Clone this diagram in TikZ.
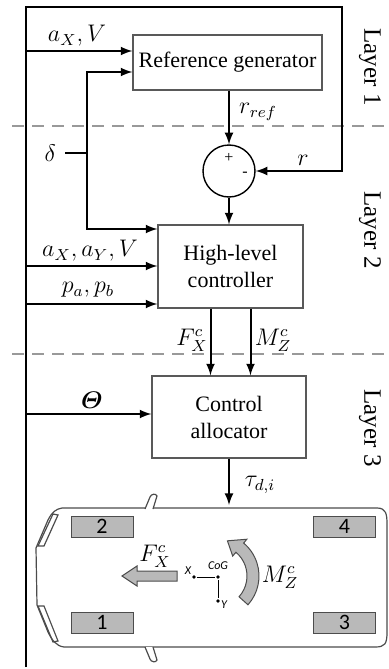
\documentclass[tikz,border=0pt]{standalone}
\usepackage{amsmath}
\usepackage{bm}
\usepackage{fontspec}
\setmainfont{Liberation Serif}
\newfontfamily\carlito{Carlito}
\usetikzlibrary{positioning,shapes,fit}

\begin{document}
\begin{tikzpicture}[-latex, x=0.5pt, y=-0.5pt, line width=1pt,
    block/.style = {draw=gray!70!black, line width=0.6pt, align=center, inner sep=2pt,
                    font=\fontsize{11}{13.5}\selectfont},
    sumpoint/.style = {draw, circle, line width=0.7pt, minimum size=26pt, inner sep=0pt},
    sig/.style = {draw=none, inner sep=1pt, font=\fontsize{11.5}{13}\selectfont},
    sign/.style = {draw=none, inner sep=0pt, font=\fontsize{8}{9}\selectfont},
    layer/.style = {rotate=-90, inner sep=0pt, font=\fontsize{12.5}{14}\selectfont},
    sep/.style = {-, gray!80, line width=0.8pt, dash pattern=on 6pt off 4pt},
    carline/.style = {-, draw=gray!60!black, line width=0.6pt},
    wheel/.style = {draw=gray!60!black, fill=gray!55, line width=0.5pt, minimum width=31pt,
                    minimum height=10.5pt, inner sep=0pt, font=\carlito\fontsize{11}{11}\selectfont},
    dot/.style = {circle, fill, inner sep=0pt, minimum size=1.8pt},
    axis/.style = {inner sep=0.5pt, font=\carlito\itshape\fontsize{6}{7}\selectfont},
    bigarrow/.style = {-, fill=gray!55, draw=gray!60!black, line width=0.5pt}]
    \useasboundingbox (0,0) rectangle (389,669);

    % blocks
    \node[block, minimum width=94.5pt, minimum height=27.5pt] (refgen) at (227.5,62.5) {Reference generator};
    \node[sumpoint] (sum) at (229,171) {};
    \node[sign] (plus) at (229,158) {+};
    \node[sign] (minus) at (245,174) {-};
    \node[block, minimum width=72.5pt, minimum height=41.5pt] (hlc) at (230.5,266.5) {High-level\\controller};
    \node[block, minimum width=77pt, minimum height=41pt] (alloc) at (229,417) {Control\\allocator};

    % layers
    \node[layer] (L1) at (370,67) {Layer 1};
    \node[layer] (L2) at (370,230) {Layer 2};
    \node[layer] (L3) at (370,428) {Layer 3};
    \draw[sep] (12,126) -- (389,126);
    \draw[sep] (12,354) -- (389,354);

    % inputs
    \coordinate (fbot) at (26,667);
    \coordinate (ftop) at (342,7);
    \coordinate (inAV) at (26,51);
    \coordinate (inAAV) at (26,266);
    \coordinate (inP) at (26,304);
    \coordinate (inT) at (26,414);
    \coordinate (dstart) at (65,153);
    \coordinate (dsplit) at (87,153);
    \coordinate (dup) at (87,72);
    \coordinate (ddown) at (87,229);
    \coordinate (cartop) at (228,505);
    \coordinate (fxtop) at ([xshift=-10pt]hlc.south);
    \coordinate (mztop) at ([xshift=10pt]hlc.south);

    \draw (fbot) |- (ftop) |- (sum.east);
    \draw (inAV) -- (inAV -| refgen.west);
    \draw[-] (dstart) -- (dsplit);
    \draw (dsplit) -- (dup) -- (dup -| refgen.west);
    \draw (dsplit) -- (ddown) -- (ddown -| hlc.west);
    \draw (refgen.south -| sum.north) -- (sum.north);
    \draw (sum.south) -- (sum.south |- hlc.north);
    \draw (inAAV) -- (inAAV -| hlc.west);
    \draw (inP) -- (inP -| hlc.west);
    \draw (fxtop) -- (fxtop |- alloc.north);
    \draw (mztop) -- (mztop |- alloc.north);
    \draw (inT) -- (inT -| alloc.west);
    \draw (alloc.south) -- (alloc.south |- cartop);

    % signal names
    \node[sig] (lAV) at (77,36) {$a_X, V$};
    \node[sig] (ldelta) [left = 3pt of dstart] {$\delta$};
    \node[sig] (lrref) at (258,112) {$r_{ref}$};
    \node[sig] (lr) at (303,160) {$r$};
    \node[sig] (lAAV) at (90,251) {$a_X, a_Y, V$};
    \node[sig] (lP) at (88,290) {$p_a, p_b$};
    \node[sig] (lFX) at (192,340) {$F_X^c$};
    \node[sig] (lMZ) at (273,340) {$M_Z^c$};
    \node[sig] (lT) at (92,400) {$\bm{\varTheta}$};
    \node[sig] (ltau) at (260,485) {$\tau_{d,i}$};

    % vehicle
    \draw[carline] (62,508) -- (377,508) .. controls (386,508) and (387,514) .. (387,524)
        -- (387,632) .. controls (387,644) and (385,647) .. (375,647) -- (64,647)
        .. controls (56,646) and (52,640) .. (48,632) -- (37,605) -- (36,548) -- (48,520)
        .. controls (52,512) and (56,509) .. (62,508) -- cycle;
    \draw[carline, fill=white] (145,509) -- (150,497) .. controls (151,494) and (156,493) .. (157,496) -- (153,509);
    \draw[carline, fill=white] (145,647) -- (150,659) .. controls (151,662) and (156,663) .. (157,660) -- (153,647);
    \draw[carline] (38,546) -- (44,546) -- (58,515) -- (53,514) -- cycle;
    \draw[carline] (38,606) -- (44,606) -- (58,641) -- (53,642) -- cycle;

    \node[wheel] (w2) at (102,526.5) {2};
    \node[wheel] (w4) at (344.5,526.5) {4};
    \node[wheel] (w1) at (102,622.5) {1};
    \node[wheel] (w3) at (344.5,622.5) {3};

    \filldraw[bigarrow] (177,571) -- (137,571) -- (137,566) -- (122,576) -- (137,586) -- (137,581) -- (177,581) -- cycle;
    \node[sig] (cFX) at (155,556) {$F_X^c$};

    \node[dot] (cog) at (218,577) {};
    \node[dot] (xdot) at (194,577) {};
    \node[dot] (ydot) at (218,601) {};
    \draw[-, line width=0.4pt] (xdot) -- (cog) -- (ydot);
    \node[axis] (lx) at (188,571) {X};
    \node[axis] (lcog) at (218,566) {CoG};
    \node[axis] (ly) at (224,605) {Y};

    \coordinate (mc) at (216,576);
    \filldraw[bigarrow] ([shift={(42:43)}]mc) arc[start angle=42, end angle=-50, radius=43]
        -- ([shift={(-50:48)}]mc) -- ([shift={(-72:37)}]mc) -- ([shift={(-50:26)}]mc)
        -- ([shift={(-50:31)}]mc) arc[start angle=-50, end angle=42, radius=31] -- cycle;
    \node[sig] (cMZ) at (280,577) {$M_Z^c$};
\end{tikzpicture}
\end{document}
